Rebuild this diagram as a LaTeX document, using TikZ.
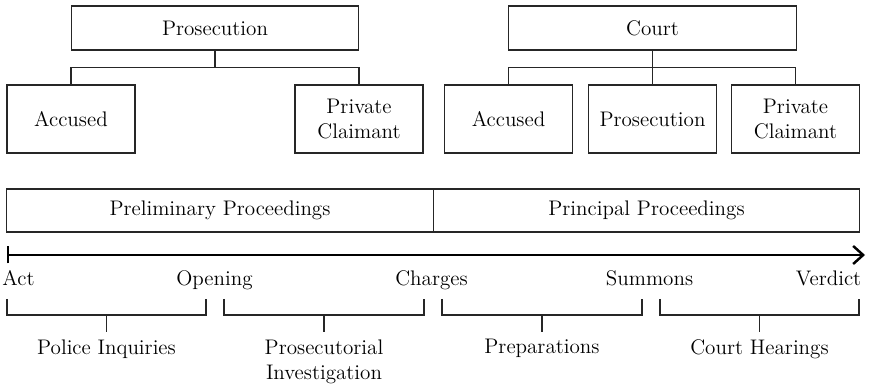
\documentclass[tikz,border=0pt]{standalone}
\usepackage{tikz}
\usetikzlibrary{arrows.meta}
\tikzset{every picture/.style={font issue=\fontsize{12}{14.5}},
         font issue/.style={execute at begin picture={#1\selectfont}}
}

\begin{document}
\begin{tikzpicture}[line width=0.6pt,
    head/.style={draw=black!85, minimum width=5.75cm, minimum height=0.88cm},
    party/.style={draw=black!85, align=center, minimum width=2.56cm, minimum height=1.36cm},
    phase/.style={draw=black!85, minimum width=8.53cm, minimum height=0.86cm},
    event/.style={anchor=base},
    stage/.style={anchor=north, align=center}]
        \useasboundingbox (0cm, 0cm) rectangle (17.38cm, 7.72cm);
        % preliminary proceedings parties
        \node [head] (prosecution) at (4.3cm, 7.16cm) {Prosecution};
        \node [party] (accused) at (1.42cm, 5.34cm) {Accused};
        \node [party] (claimant) at (7.18cm, 5.34cm) {Private\\Claimant};
        \draw [draw=black!85] (prosecution.south) -- ++(0, -0.34cm) -| (accused.north);
        \draw [draw=black!85] (prosecution.south) -- ++(0, -0.34cm) -| (claimant.north);
        % principal proceedings parties
        \node [head] (court) at (13.05cm, 7.16cm) {Court};
        \node [party] (accused2) at (10.17cm, 5.34cm) {Accused};
        \node [party] (prosecution2) at (13.05cm, 5.34cm) {Prosecution};
        \node [party] (claimant2) at (15.91cm, 5.34cm) {Private\\Claimant};
        \draw [draw=black!85] (court.south) -- ++(0, -0.34cm) -| (accused2.north);
        \draw [draw=black!85] (court.south) -- ++(0, -0.34cm) -| (claimant2.north);
        \draw [draw=black!85] (court.south) -- (prosecution2.north);
        % phases and time line
        \node [phase] (preliminary) at (4.40cm, 3.51cm) {Preliminary Proceedings};
        \node [phase] (principal) at (12.93cm, 3.51cm) {Principal Proceedings};
        \coordinate (start) at (0.14cm, 2.62cm);
        \coordinate (end) at (17.30cm, 2.62cm);
        \draw [line width=1.4pt, {Bar[width=0.34cm]}-{Straight Barb[length=0.2cm, width=0.36cm]}] (start) -- (end);
        \node [event] (act) at (0.37cm, 2.0cm) {Act};
        \node [event] (opening) at (4.29cm, 2.0cm) {Opening};
        \node [event] (charges) at (8.63cm, 2.0cm) {Charges};
        \node [event] (summons) at (12.99cm, 2.0cm) {Summons};
        \node [event] (verdict) at (16.57cm, 2.0cm) {Verdict};
        % stages below
        \node [stage] (police) at (2.13cm, 1.08cm) {Police Inquiries};
        \node [stage] (investigation) at (6.48cm, 1.08cm) {Prosecutorial\\Investigation};
        \node [stage] (preparations) at (10.84cm, 1.08cm) {Preparations};
        \node [stage] (hearings) at (15.19cm, 1.08cm) {Court Hearings};
        \draw [draw=black!85] (0.14cm, 1.74cm) |- (4.12cm, 1.42cm) -- (4.12cm, 1.74cm) (police.north) -- ++(0, 0.34cm);
        \draw [draw=black!85] (4.48cm, 1.74cm) |- (8.48cm, 1.42cm) -- (8.48cm, 1.74cm) (investigation.north) -- ++(0, 0.34cm);
        \draw [draw=black!85] (8.84cm, 1.74cm) |- (12.84cm, 1.42cm) -- (12.84cm, 1.74cm) (preparations.north) -- ++(0, 0.34cm);
        \draw [draw=black!85] (13.20cm, 1.74cm) |- (17.18cm, 1.42cm) -- (17.18cm, 1.74cm) (hearings.north) -- ++(0, 0.34cm);
      \end{tikzpicture}
\end{document}
